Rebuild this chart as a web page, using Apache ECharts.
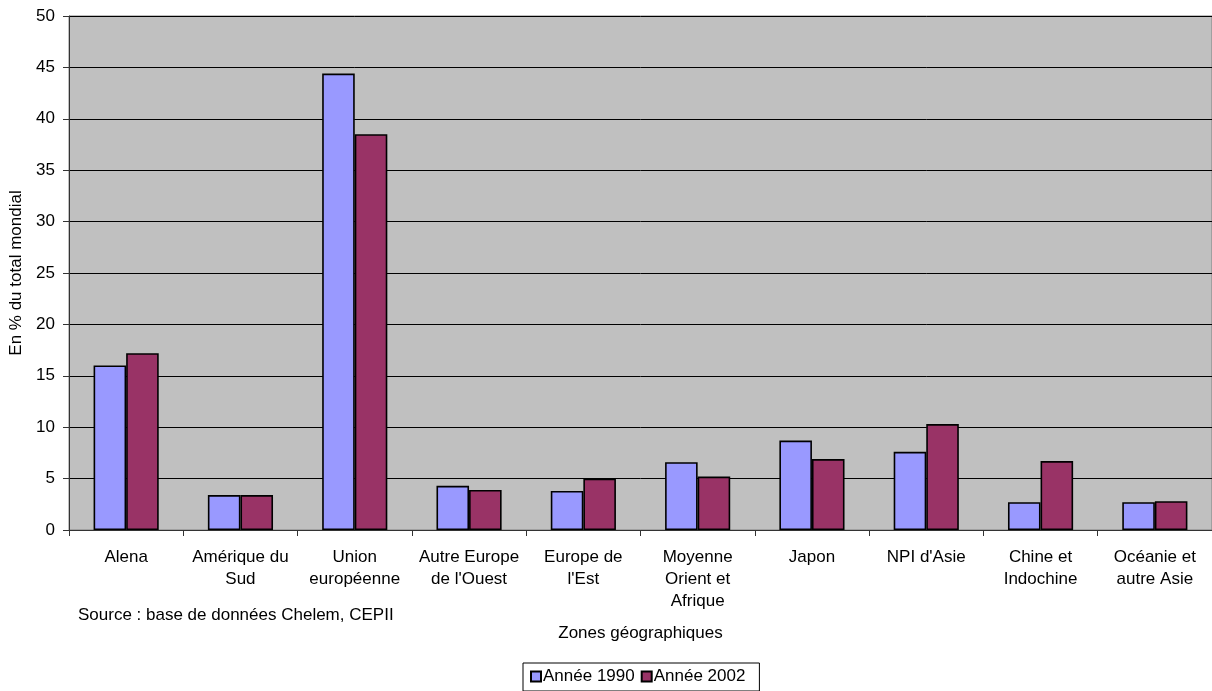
<!DOCTYPE html>
<html>
<head>
<meta charset="utf-8">
<script src="https://cdn.jsdelivr.net/npm/echarts@6/dist/echarts.min.js"></script>
<style>
  html, body { margin: 0; padding: 0; background: #fff; overflow: hidden; }
  #chart { width: 1212px; height: 691px; }
</style>
</head>
<body>
<div id="chart"></div>
<script>
// Zones géographiques and their share of the world total (%)
const categories = [
  'Alena', 'Amérique du\nSud', 'Union\neuropéenne', 'Autre Europe\nde l\'Ouest',
  'Europe de\nl\'Est', 'Moyenne\nOrient et\nAfrique', 'Japon', 'NPI d\'Asie',
  'Chine et\nIndochine', 'Océanie et\nautre Asie'
];
const values1990 = [16.0, 3.4, 44.4, 4.3, 3.8, 6.6, 8.7, 7.6, 2.7, 2.7];
const values2002 = [17.2, 3.4, 38.5, 3.9, 5.0, 5.2, 6.9, 10.3, 6.7, 2.8];
const seriesNames = ['Année 1990', 'Année 2002'];
const yTicks = { min: 0, max: 50, interval: 5 };

const font = 'Arial, "Liberation Sans", sans-serif';
const fs = 17;
const chart = echarts.init(document.getElementById('chart'));

chart.setOption({
  animation: false,
  textStyle: { fontFamily: font, color: '#000' },
  grid: {
    left: 69, right: -2, top: 16, bottom: 161,
    show: true, backgroundColor: '#c0c0c0', borderColor: '#808080', borderWidth: 1
  },
  xAxis: {
    type: 'category',
    data: categories,
    boundaryGap: true,
    name: 'Zones géographiques',
    nameLocation: 'middle',
    nameGap: 95,
    nameTextStyle: { fontSize: fs, fontFamily: font, color: '#000' },
    axisLine: { lineStyle: { color: '#333', width: 1 } },
    axisTick: { show: true, length: 6, lineStyle: { color: '#333' } },
    axisLabel: { fontSize: fs, color: '#000', margin: 16, lineHeight: 22, interval: 0, fontFamily: font }
  },
  yAxis: {
    type: 'value',
    min: yTicks.min, max: yTicks.max, interval: yTicks.interval,
    name: 'En % du total mondial',
    nameLocation: 'middle',
    nameGap: 38,
    nameTextStyle: { fontSize: fs, fontFamily: font, color: '#000' },
    axisLine: { show: true, lineStyle: { color: '#333', width: 1 } },
    axisTick: { show: true, length: 6, lineStyle: { color: '#333' } },
    axisLabel: { fontSize: fs, color: '#000', margin: 14, fontFamily: font },
    splitLine: { show: true, lineStyle: { color: '#000', width: 1 } }
  },
  legend: {
    left: 523, top: 663,
    itemWidth: 10, itemHeight: 10, itemGap: 6,
    padding: [5, 14, 6, 7],
    borderColor: '#000', borderWidth: 1,
    backgroundColor: '#fff',
    icon: 'rect',
    textStyle: { fontSize: fs, color: '#000', fontFamily: font, padding: [0, 0, 0, -3] },
    data: seriesNames
  },
  graphic: [{
    type: 'text',
    left: 78, top: 607,
    style: { text: 'Source : base de données Chelem, CEPII', font: fs + 'px ' + font, fill: '#000' }
  }],
  series: [
    {
      name: seriesNames[0], type: 'bar', data: values1990,
      barGap: '0%', barCategoryGap: '43%',
      itemStyle: { color: '#9999ff', borderColor: '#000', borderWidth: 1.6 }
    },
    {
      name: seriesNames[1], type: 'bar', data: values2002,
      itemStyle: { color: '#993366', borderColor: '#000', borderWidth: 1.6 }
    }
  ]
});
</script>
</body>
</html>
